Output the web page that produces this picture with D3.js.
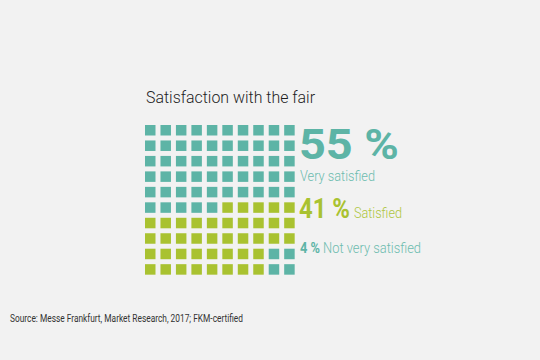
<!DOCTYPE html>
<html><head><meta charset="utf-8">
<script src="https://cdn.jsdelivr.net/npm/d3@7"></script>
<style>html,body{margin:0;padding:0;background:#f2f2f2;}svg{display:block;}</style>
</head><body>
<svg id="c" width="540" height="360"></svg>
<script>
const title = "Satisfaction with the fair";
const categories = ["Very satisfied", "Satisfied", "Not very satisfied"];
const values = [55, 41, 4];
const colors = ["#5db4a6", "#a9c230"];
const source = "Source: Messe Frankfurt, Market Research, 2017; FKM-certified";

const svg = d3.select("#c");
svg.append("rect").attr("width",540).attr("height",360).attr("fill","#f2f2f2");

const font = "Roboto, 'Liberation Sans', sans-serif";
function txt(s, x, y, size, weight, fill, len) {
  return svg.append("text").attr("x", x).attr("y", y).attr("font-family", font)
    .attr("font-size", size).attr("font-weight", weight).attr("fill", fill)
    .attr("textLength", len).attr("lengthAdjust", "spacingAndGlyphs").text(s);
}

txt(title, 146, 103, 16.5, 300, "#1e1e1e", 169);

// waffle grid
const idx = d3.range(10);
const x = d3.scaleBand().domain(idx).range([145, 295]).paddingInner(0.3).paddingOuter(0).align(0);
const y = d3.scaleBand().domain(idx).range([125, 275]).paddingInner(0.3).paddingOuter(0).align(0);
// order: rows 0-7 row-major, rows 8-9 column-major
const order = [];
for (let r = 0; r < 8; r++) for (let c = 0; c < 10; c++) order.push({r, c});
for (let c = 0; c < 10; c++) for (let r = 8; r < 10; r++) order.push({r, c});
const cum = d3.cumsum(values);
order.forEach((d, i) => { d.cat = cum.findIndex(v => i < v); });
const catColor = [colors[0], colors[1], colors[0]];
svg.append("g").selectAll("rect").data(order).join("rect")
  .attr("x", d => x(d.c)).attr("y", d => y(d.r))
  .attr("width", 10.5).attr("height", 10.5)
  .attr("fill", d => catColor[d.cat]);

// labels
txt(values[0] + " %", 299, 159, 43, 700, colors[0], 100);
txt(categories[0], 300, 181, 14, 300, "#6dbcaf", 75);
txt(values[1] + " %", 299, 218, 28, 700, colors[1], 51);
txt(categories[1], 354, 218, 14.5, 300, "#aec640", 48);
txt(values[2] + " %", 300, 253, 14.5, 700, colors[0], 20);
txt(categories[2], 323, 253, 14.5, 300, "#6dbcaf", 98);

txt(source, 10, 322, 10, 400, "#333", 233);
</script>
</body></html>
